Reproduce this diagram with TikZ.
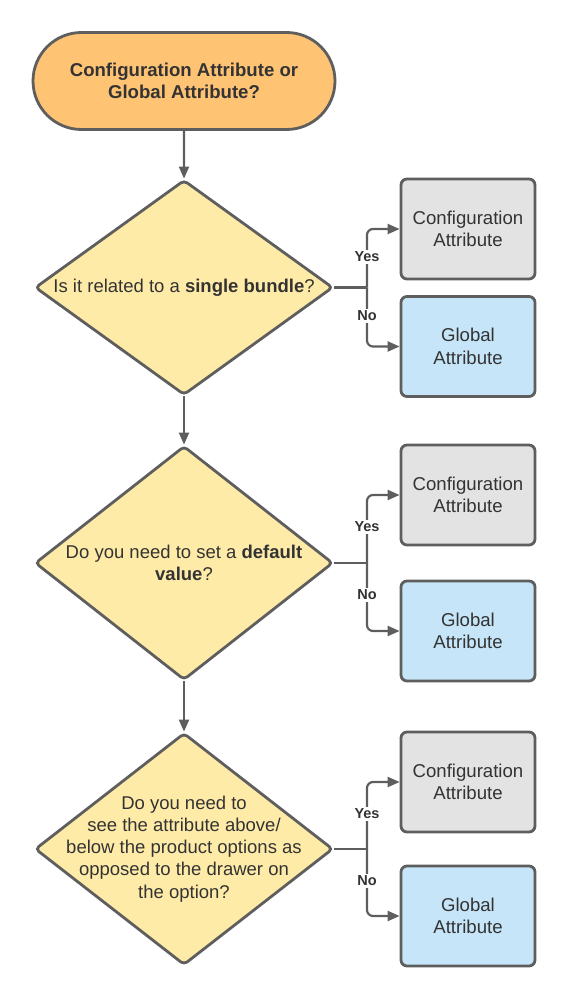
\documentclass[tikz,border=0pt]{standalone}
\usepackage{fontspec}
\setmainfont{Liberation Sans}
\usetikzlibrary{shapes.geometric,shapes.misc,arrows.meta}
\definecolor{edge}{HTML}{5E5E5E}
\definecolor{txt}{HTML}{333333}
\definecolor{termfill}{HTML}{FFC374}
\definecolor{diafill}{HTML}{FFEBA8}
\definecolor{conffill}{HTML}{E3E3E3}
\definecolor{globfill}{HTML}{C6E5F8}
\tikzset{
  term/.style={rounded rectangle, draw=edge, line width=2.8pt, fill=termfill, minimum width=302pt, minimum height=97pt, inner sep=0pt, text=txt, font=\fontsize{18.6}{22.5}\selectfont\bfseries, align=center},
  dia/.style={diamond, draw=edge, line width=2.8pt, fill=diafill, minimum width=298pt, minimum height=215pt, inner sep=0pt, rounded corners=4pt},
  diatext/.style={text=txt, font=\fontsize{18.5}{22.2}\selectfont, align=center},
  confbox/.style={rectangle, rounded corners=6pt, draw=edge, line width=2.8pt, fill=conffill, minimum width=134pt, minimum height=100pt, text=txt, font=\fontsize{18.6}{22.5}\selectfont, align=center},
  globbox/.style={confbox, fill=globfill},
  conn/.style={draw=edge, line width=2.2pt, -{Triangle[length=12pt,width=10pt]}, rounded corners=6pt},
  plainline/.style={draw=edge, line width=2.2pt},
  lab/.style={fill=white, text=txt, font=\fontsize{14.5}{17}\selectfont\bfseries, inner sep=1.5pt}
}
\begin{document}
\begin{tikzpicture}[x=1pt,y=-1pt]
\useasboundingbox (0,0) rectangle (569,1000);
\node[term] (t) at (184,81) {Configuration Attribute or\\Global Attribute?};

\node[dia] (d1) at (184,287.5) {};
\node[diatext] (d1t) at (d1) {Is it related to a \textbf{single bundle}?};
\node[dia, minimum height=234pt] (d2) at (184,563) {};
\node[diatext] (d2t) at (d2) {Do you need to set a \textbf{default}\\\textbf{value}?};
\node[dia, minimum height=232pt] (d3) at (184,849) {};
\node[diatext] (d3t) at (d3) {Do you need to\\see the attribute above/\\below the product options as\\opposed to the drawer on\\the option?};

\node[confbox] (c1) at (468,229) {Configuration\\Attribute};
\node[globbox] (g1) at (468,346.5) {Global\\Attribute};
\node[confbox] (c2) at (468,495) {Configuration\\Attribute};
\node[globbox] (g2) at (468,631) {Global\\Attribute};
\node[confbox] (c3) at (468,782) {Configuration\\Attribute};
\node[globbox] (g3) at (468,916) {Global\\Attribute};

\draw[conn] (t) -- (d1);
\draw[conn] (d1) -- (d2);
\draw[conn] (d2) -- (d3);

\coordinate (j1) at (367,287.5);
\coordinate (j2) at (367,563);
\coordinate (j3) at (367,849);

\draw[plainline] (d1.east) -- (j1);
\draw[conn] (j1) |- (c1.west);
\draw[conn] (j1) |- (g1.west);
\draw[plainline] (d2.east) -- (j2);
\draw[conn] (j2) |- (c2.west);
\draw[conn] (j2) |- (g2.west);
\draw[plainline] (d3.east) -- (j3);
\draw[conn] (j3) |- (c3.west);
\draw[conn] (j3) |- (g3.west);

\node[lab] (y1) at (367,257) {Yes};
\node[lab] (n1) at (367,316) {No};
\node[lab] (y2) at (367,527) {Yes};
\node[lab] (n2) at (367,595) {No};
\node[lab] (y3) at (367,814) {Yes};
\node[lab] (n3) at (367,881) {No};
\end{tikzpicture}
\end{document}
